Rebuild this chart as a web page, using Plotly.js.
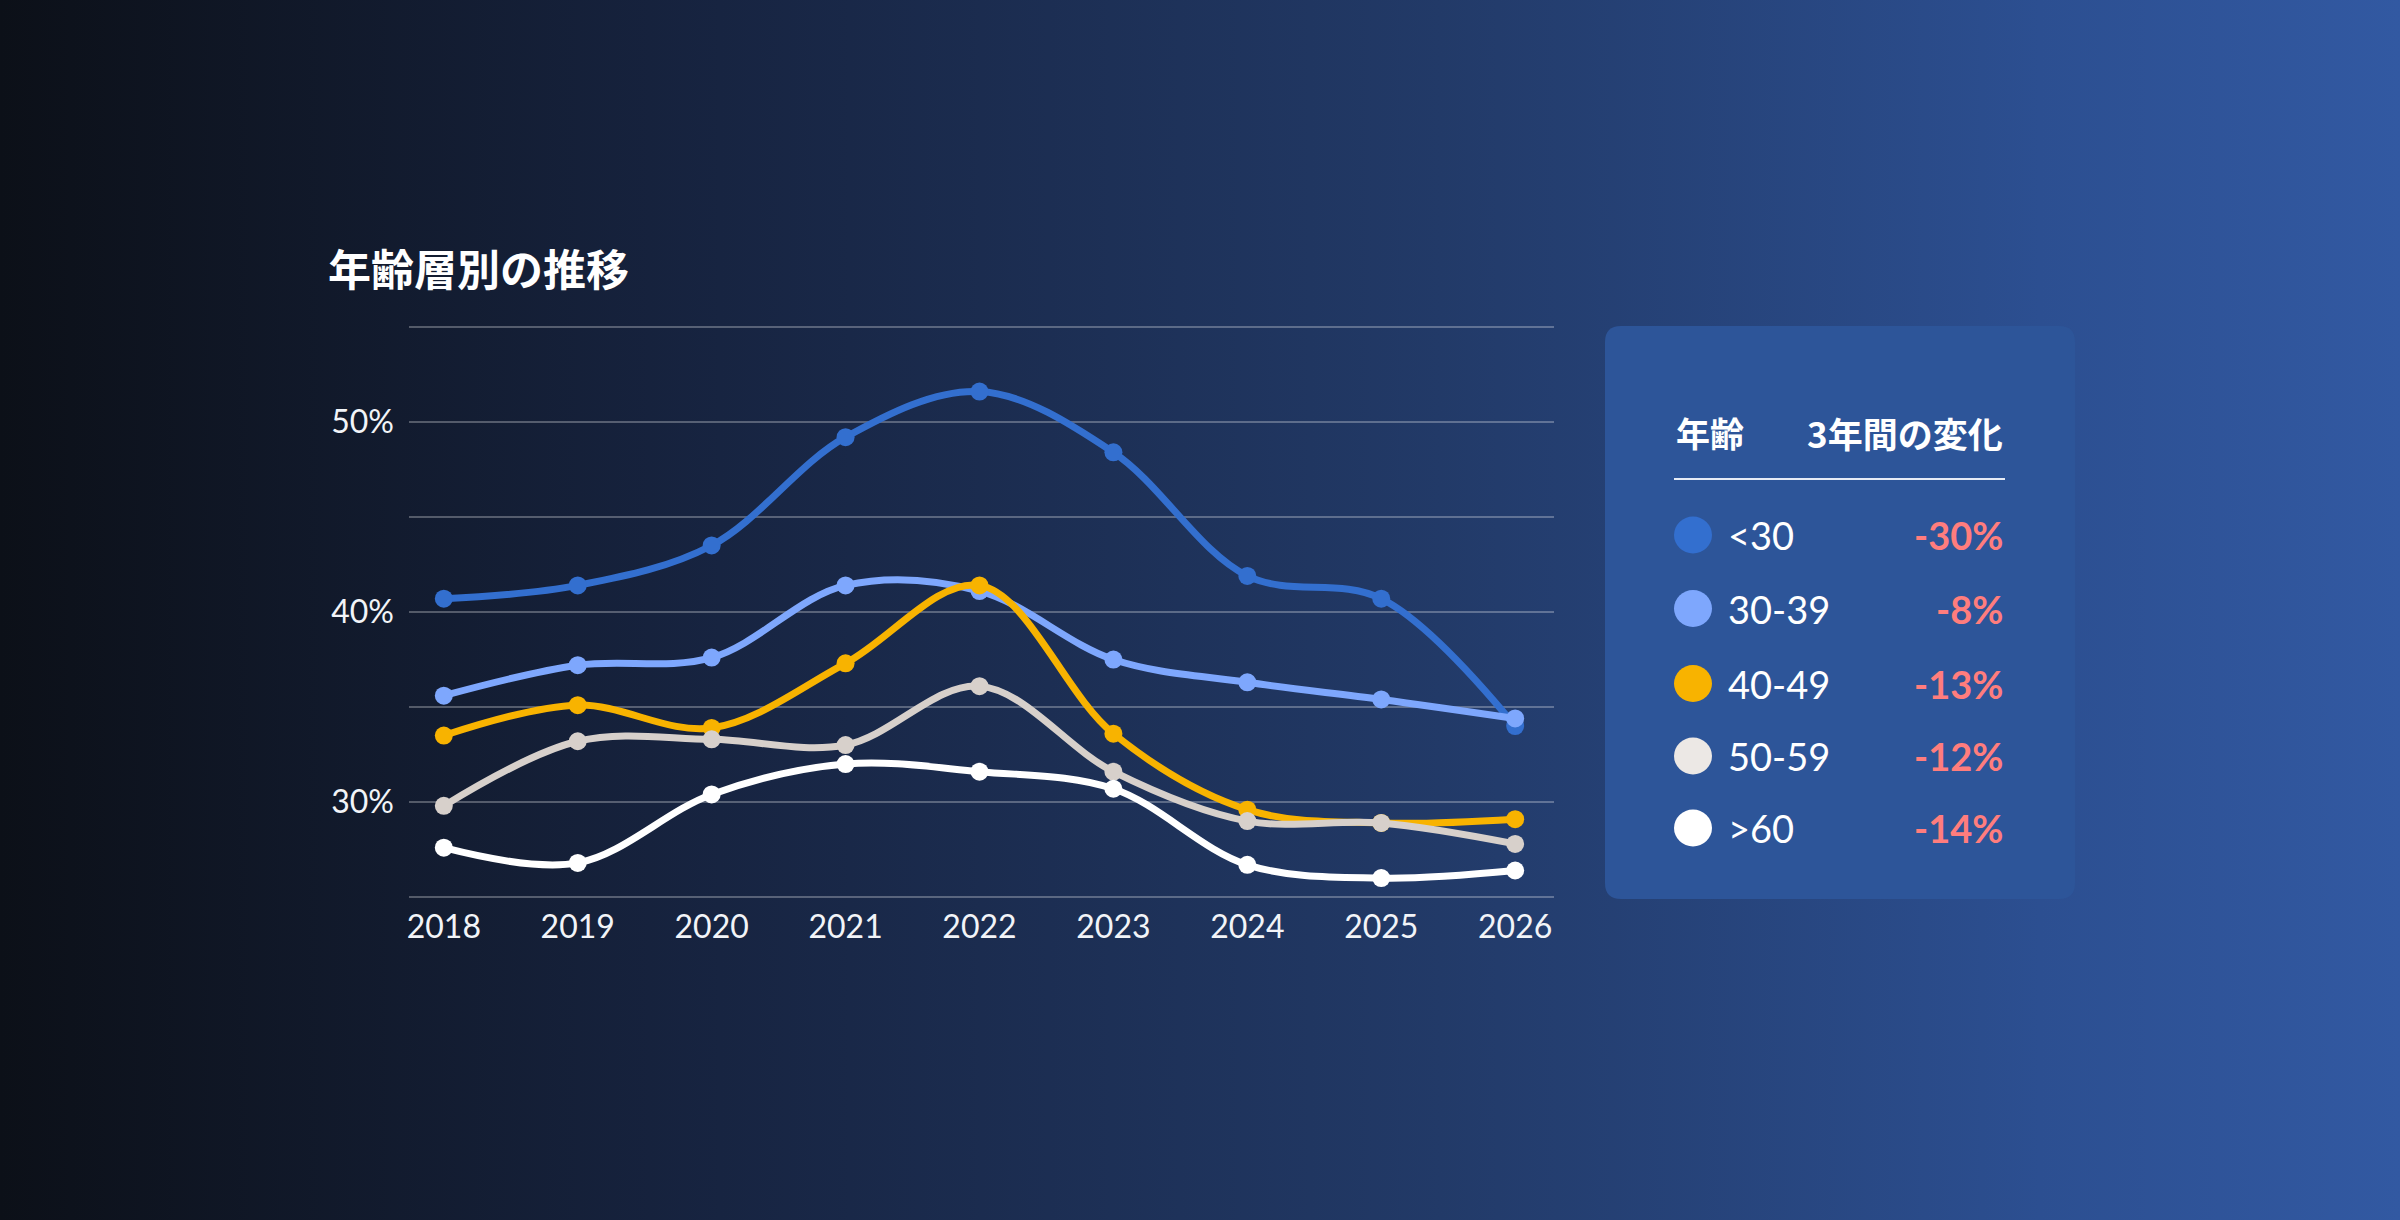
<!DOCTYPE html>
<html>
<head>
<meta charset="utf-8">
<script src="https://cdn.plot.ly/plotly-3.0.1.min.js"></script>
<style>
  html, body {
    margin: 0;
    padding: 0;
    width: 2400px;
    height: 1220px;
    overflow: hidden;
    background: linear-gradient(90deg, #0c1018 0%, #172441 30%, #223a68 60%, #2c4f91 85%, #3259a2 100%);
  }
  #chart { width: 2400px; height: 1220px; }
</style>
</head>
<body>
<div id="chart"></div>
<script>
// years on the x axis
var years = ['2018', '2019', '2020', '2021', '2022', '2023', '2024', '2025', '2026'];

// share per age group (%)
var under30 = [40.7, 41.4, 43.5, 49.2, 51.6, 48.4, 41.9, 40.7, 34.0];
var age30s  = [35.6, 37.2, 37.6, 41.4, 41.1, 37.5, 36.3, 35.4, 34.4];
var age40s  = [33.5, 35.1, 33.9, 37.3, 41.4, 33.6, 29.6, 28.9, 29.1];
var age50s  = [29.8, 33.2, 33.3, 33.0, 36.1, 31.6, 29.0, 28.9, 27.8];
var over60  = [27.6, 26.8, 30.4, 32.0, 31.6, 30.7, 26.7, 26.0, 26.4];

var groupNames  = ['<30', '30-39', '40-49', '50-59', '>60'];
var groupColors = ['#336fcf', '#7ea7fd', '#f8b300', '#d7d0cb', '#ffffff'];
var legendColors = ['#336fcf', '#7ea7fd', '#f8b300', '#ece8e5', '#ffffff'];
var changes = ['-30%', '-8%', '-13%', '-12%', '-14%'];

var yTicks = [25, 30, 35, 40, 45, 50, 55];
var yTickText = ['', '30%', '', '40%', '', '50%', ''];

var W = 2400, H = 1220;
var L = 409, R = 1554, T = 325, B = 899;

// pixel -> paper helpers for the side panel
function px(x) { return (x - L) / (R - L); }
function py(y) { return 1 - (y - T) / (B - T); }

var font = "Lato, 'Noto Sans CJK JP', sans-serif";
var jpFont = "'Noto Sans CJK JP', Lato, sans-serif";

var series = [under30, age30s, age40s, age50s, over60];
var traces = [];
for (var i = 0; i < series.length; i++) {
    traces.push({
        type: 'scatter',
        mode: 'lines+markers',
        name: groupNames[i],
        x: years,
        y: series[i],
        line: { color: groupColors[i], width: 7, shape: 'spline', smoothing: 1 },
        marker: { color: groupColors[i], size: 18 },
        cliponaxis: false,
        hoverinfo: 'skip'
    });
}

// panel background with rounded corners
function roundRect(x0, y0, x1, y1, r) {
    var rx = r / (R - L), ry = r / (B - T);
    var a = px(x0), b = px(x1), top = py(y0), bot = py(y1);
    return 'M ' + (a + rx) + ',' + top +
        ' L ' + (b - rx) + ',' + top +
        ' Q ' + b + ',' + top + ' ' + b + ',' + (top - ry) +
        ' L ' + b + ',' + (bot + ry) +
        ' Q ' + b + ',' + bot + ' ' + (b - rx) + ',' + bot +
        ' L ' + (a + rx) + ',' + bot +
        ' Q ' + a + ',' + bot + ' ' + a + ',' + (bot + ry) +
        ' L ' + a + ',' + (top - ry) +
        ' Q ' + a + ',' + top + ' ' + (a + rx) + ',' + top + ' Z';
}

var shapes = [
    {
        type: 'path', xref: 'paper', yref: 'paper',
        path: roundRect(1605, 326, 2075, 899, 16),
        fillcolor: '#2d5599', line: { width: 0 }, layer: 'below'
    },
    {
        type: 'line', xref: 'paper', yref: 'paper',
        x0: px(1674), x1: px(2005), y0: py(479), y1: py(479),
        line: { color: '#e6ebf5', width: 2 }
    }
];

var annotations = [
    {
        xref: 'paper', yref: 'paper', x: px(1674), y: py(432),
        xanchor: 'left', yanchor: 'middle', showarrow: false,
        text: '<b>年齢</b>', font: { family: jpFont, size: 34, color: '#ffffff' }
    },
    {
        xref: 'paper', yref: 'paper', x: px(2005), y: py(432),
        xanchor: 'right', yanchor: 'middle', showarrow: false,
        text: '<b>3年間の変化</b>', font: { family: jpFont, size: 35, color: '#ffffff' }
    }
];

var rowY = [535, 608.5, 683.5, 756, 828];
for (var k = 0; k < groupNames.length; k++) {
    shapes.push({
        type: 'circle', xref: 'paper', yref: 'paper',
        xsizemode: 'pixel', ysizemode: 'pixel',
        xanchor: px(1693), yanchor: py(rowY[k]),
        x0: -19, x1: 19, y0: -18.5, y1: 18.5,
        fillcolor: legendColors[k], line: { width: 0 }
    });
    annotations.push({
        xref: 'paper', yref: 'paper', x: px(1726), y: py(rowY[k]),
        xanchor: 'left', yanchor: 'middle', showarrow: false,
        text: groupNames[k].replace('<', '&lt;').replace('>', '&gt;'),
        font: { family: font, size: 38, color: '#ffffff' }
    });
    annotations.push({
        xref: 'paper', yref: 'paper', x: px(2005), y: py(rowY[k]),
        xanchor: 'right', yanchor: 'middle', showarrow: false,
        text: '<b>' + changes[k] + '</b>',
        font: { family: font, size: 38, color: '#ff7d7d' }
    });
}

var layout = {
    width: W,
    height: H,
    margin: { l: L, r: W - R, t: T, b: H - B, pad: 0 },
    paper_bgcolor: 'rgba(0,0,0,0)',
    plot_bgcolor: 'rgba(0,0,0,0)',
    showlegend: false,
    hovermode: false,
    title: {
        text: '<b>年齢層別の推移</b>',
        xref: 'container', yref: 'container',
        x: 328 / W, y: 1 - 271 / H,
        xanchor: 'left', yanchor: 'middle',
        font: { family: jpFont, size: 43, color: '#ffffff' }
    },
    xaxis: {
        type: 'category',
        range: [-0.26, 8.29],
        showgrid: false,
        zeroline: false,
        showline: false,
        ticks: '',
        ticklabelstandoff: 6,
        tickfont: { family: font, size: 32, color: '#f2f4f8' }
    },
    yaxis: {
        range: [24.9, 55.1],
        tickmode: 'array',
        tickvals: yTicks,
        ticktext: yTickText,
        showgrid: true,
        gridcolor: 'rgba(255,255,255,0.28)',
        gridwidth: 2.5,
        zeroline: false,
        showline: false,
        ticks: '',
        ticklabelstandoff: 14,
        tickfont: { family: font, size: 32, color: '#f2f4f8' }
    },
    shapes: shapes,
    annotations: annotations
};

Plotly.newPlot('chart', traces, layout, { staticPlot: true, displayModeBar: false });
</script>
</body>
</html>
